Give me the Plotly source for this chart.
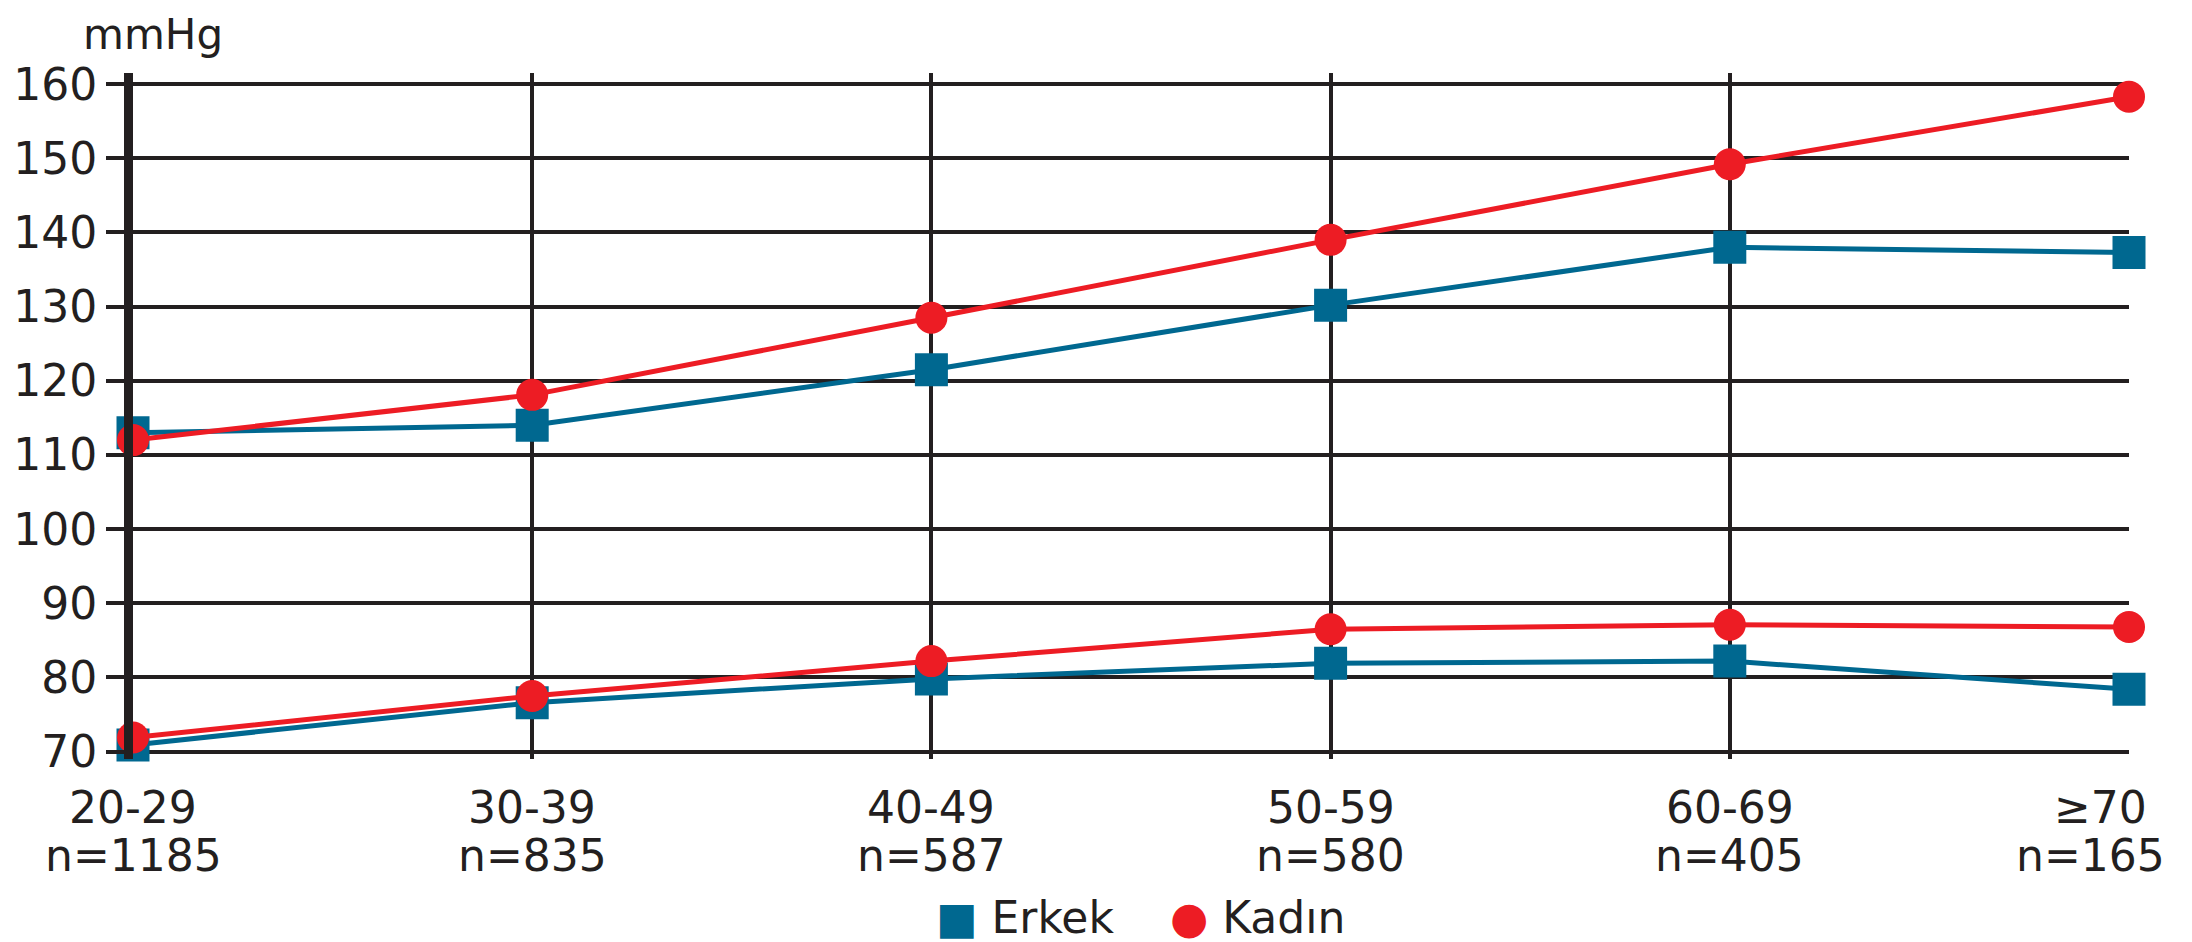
import plotly.graph_objects as go

# Age groups and sample sizes
age_groups = ["20-29", "30-39", "40-49", "50-59", "60-69", "≥70"]
n_values = [1185, 835, 587, 580, 405, 165]

# Blood pressure (mmHg)
erkek_sistolik = [113, 114, 121.5, 130.2, 138, 137.3]
erkek_diastolik = [70.9, 76.6, 79.8, 81.9, 82.2, 78.4]
kadin_sistolik = [112, 118.1, 128.5, 139, 149.2, 158.3]
kadin_diastolik = [71.9, 77.5, 82.2, 86.5, 87.1, 86.8]

y_ticks = [70, 80, 90, 100, 110, 120, 130, 140, 150, 160]

BLUE = "#006890"
RED = "#ed1c24"
DARK = "#231f20"
FONT = "DejaVu Sans"
FSIZE = 44

x = list(range(len(age_groups)))

fig = go.Figure()

for values, color, symbol, size in [
    (erkek_sistolik, BLUE, "square", 33),
    (erkek_diastolik, BLUE, "square", 33),
    (kadin_sistolik, RED, "circle", 32),
    (kadin_diastolik, RED, "circle", 32),
]:
    fig.add_trace(
        go.Scatter(x=x, y=values, mode="lines+markers",
                   line=dict(color=color, width=5),
                   marker=dict(color=color, symbol=symbol, size=size),
                   cliponaxis=False, showlegend=False, hoverinfo="skip")
    )

fig.update_xaxes(
    range=[0, len(age_groups) - 1],
    tickvals=x, showticklabels=False,
    showgrid=True, gridcolor=DARK, gridwidth=3.5,
    zeroline=False, showline=False, ticks="", automargin=False,
)
fig.update_yaxes(
    range=[69, 161.5],
    tickvals=y_ticks,
    showgrid=True, gridcolor=DARK, gridwidth=3.5,
    zeroline=False, showline=True, linecolor=DARK, linewidth=9,
    ticks="outside", ticklen=18, tickwidth=3.5, tickcolor=DARK,
    tickfont=dict(family=FONT, size=FSIZE, color=DARK),
    automargin=False,
)

# x labels: age group and sample size, last one pulled in from the edge
for i, (a, n) in enumerate(zip(age_groups, n_values)):
    last = i == len(age_groups) - 1
    fig.add_annotation(text=a, x=i, xref="x", y=-0.071, yref="paper",
                       yanchor="middle", xshift=-29 if last else 0, showarrow=False,
                       font=dict(family=FONT, size=FSIZE, color=DARK))
    fig.add_annotation(text=f"n={n}", x=i, xref="x", y=-0.141, yref="paper",
                       yanchor="middle", xshift=-39 if last else 0, showarrow=False,
                       font=dict(family=FONT, size=FSIZE, color=DARK))

fig.add_annotation(
    text="mmHg", xref="paper", yref="paper", x=0.01, y=1.056,
    xanchor="center", yanchor="middle",
    showarrow=False, font=dict(family=FONT, size=42, color=DARK),
)
fig.add_annotation(
    text=(f'<span style="color:{BLUE}">■</span>&nbsp;Erkek&nbsp;&nbsp;&nbsp;&nbsp;'
          f'<span style="color:{RED}">●</span>&nbsp;Kadın'),
    xref="paper", yref="paper", x=0.505, y=-0.231,
    xanchor="center", yanchor="middle",
    showarrow=False, font=dict(family=FONT, size=FSIZE, color=DARK),
)

# page body adds 8px offset, so margins are shifted by 8px
fig.update_layout(
    width=2192, height=942,
    margin=dict(l=125, r=71, t=65, b=191, autoexpand=False),
    plot_bgcolor="white", paper_bgcolor="white",
    dragmode=False,
)

fig.write_html("out.html")
